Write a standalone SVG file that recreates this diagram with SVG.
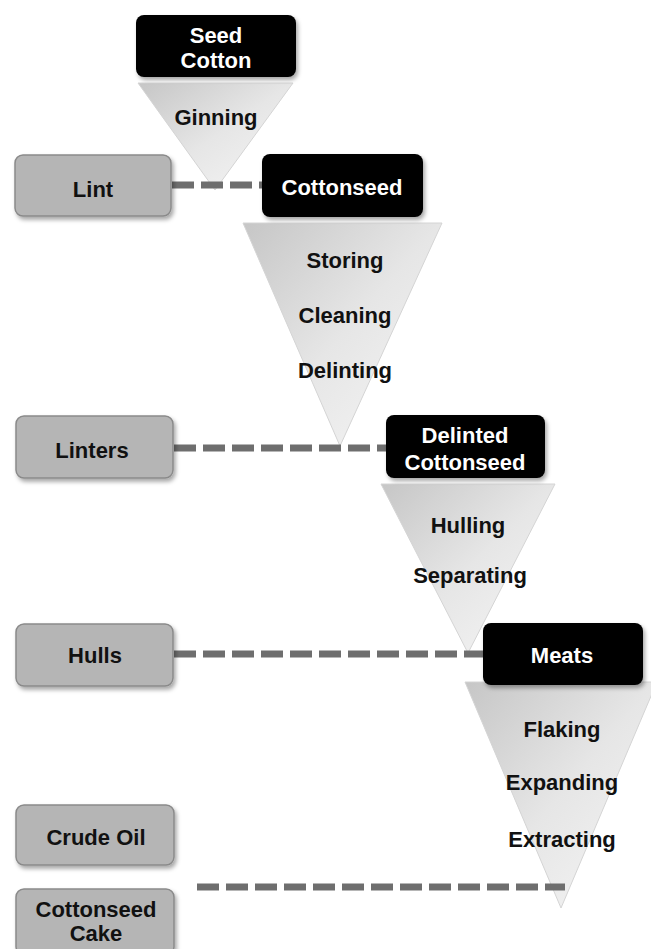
<svg xmlns="http://www.w3.org/2000/svg" width="651" height="949" viewBox="0 0 651 949">
<defs>
<linearGradient id="tg" x1="0" y1="0" x2="1" y2="1">
<stop offset="0" stop-color="#c6c6c6"/>
<stop offset="0.5" stop-color="#e6e6e6"/>
<stop offset="1" stop-color="#f6f6f6"/>
</linearGradient>
<filter id="sh" x="-10%" y="-10%" width="125%" height="135%">
<feDropShadow dx="2" dy="3" stdDeviation="2" flood-color="#000" flood-opacity="0.35"/>
</filter>
<style>
.blk{fill:#000;filter:url(#sh)}
.gry{fill:#b5b5b5;stroke:#8a8a8a;stroke-width:1.5;filter:url(#sh)}
.tri{fill:url(#tg);stroke:#d4d4d4;stroke-width:1}
.w{font-family:"Liberation Sans",Arial,sans-serif;font-weight:bold;font-size:22px;fill:#fff;text-anchor:middle}
.k{font-family:"Liberation Sans",Arial,sans-serif;font-weight:bold;font-size:22px;fill:#111;text-anchor:middle}
.dash{stroke:#6e6e6e;stroke-width:7;stroke-dasharray:22 7;fill:none}
</style>
</defs>
<rect width="651" height="949" fill="#fff"/>
<g id="stage-ginning">
<polygon class="tri" points="138,83 293,83 215,190"/>
<text class="k" x="216" y="125">Ginning</text>
</g>
<g id="stage-cleaning">
<polygon class="tri" points="243,223 442,223 340,446"/>
<text class="k" x="345" y="268">Storing</text>
<text class="k" x="345" y="323">Cleaning</text>
<text class="k" x="345" y="378">Delinting</text>
</g>
<g id="stage-hulling">
<polygon class="tri" points="381,484 555,484 468,653"/>
<text class="k" x="468" y="533">Hulling</text>
<text class="k" x="470" y="583">Separating</text>
</g>
<g id="stage-extracting">
<polygon class="tri" points="465,682 657,682 561,908"/>
<text class="k" x="562" y="737">Flaking</text>
<text class="k" x="562" y="790">Expanding</text>
<text class="k" x="562" y="847">Extracting</text>
</g>
<g id="connectors">
<line class="dash" x1="172" y1="185" x2="262" y2="185"/>
<line class="dash" x1="174" y1="448" x2="386" y2="448"/>
<line class="dash" x1="174" y1="654" x2="483" y2="654"/>
<line class="dash" x1="197" y1="887" x2="565" y2="887"/>
</g>
<g id="seed-cotton">
<rect class="blk" x="136" y="15" width="160" height="62" rx="8"/>
<text class="w" x="216" y="43">Seed</text>
<text class="w" x="216" y="68">Cotton</text>
</g>
<g id="cottonseed">
<rect class="blk" x="262" y="154" width="161" height="63" rx="8"/>
<text class="w" x="342" y="195">Cottonseed</text>
</g>
<g id="delinted-cottonseed">
<rect class="blk" x="386" y="415" width="159" height="63" rx="8"/>
<text class="w" x="465" y="443">Delinted</text>
<text class="w" x="465" y="470">Cottonseed</text>
</g>
<g id="meats">
<rect class="blk" x="483" y="623" width="160" height="62" rx="8"/>
<text class="w" x="562" y="663">Meats</text>
</g>
<g id="lint">
<rect class="gry" x="15" y="155" width="156" height="61" rx="8"/>
<text class="k" x="93" y="197">Lint</text>
</g>
<g id="linters">
<rect class="gry" x="16" y="416" width="157" height="62" rx="8"/>
<text class="k" x="92" y="458">Linters</text>
</g>
<g id="hulls">
<rect class="gry" x="16" y="624" width="157" height="62" rx="8"/>
<text class="k" x="95" y="663">Hulls</text>
</g>
<g id="crude-oil">
<rect class="gry" x="16" y="805" width="158" height="60" rx="8"/>
<text class="k" x="96" y="845">Crude Oil</text>
</g>
<g id="cottonseed-cake">
<rect class="gry" x="16" y="889" width="158" height="66" rx="8"/>
<text class="k" x="96" y="917">Cottonseed</text>
<text class="k" x="96" y="941">Cake</text>
</g>
</svg>
